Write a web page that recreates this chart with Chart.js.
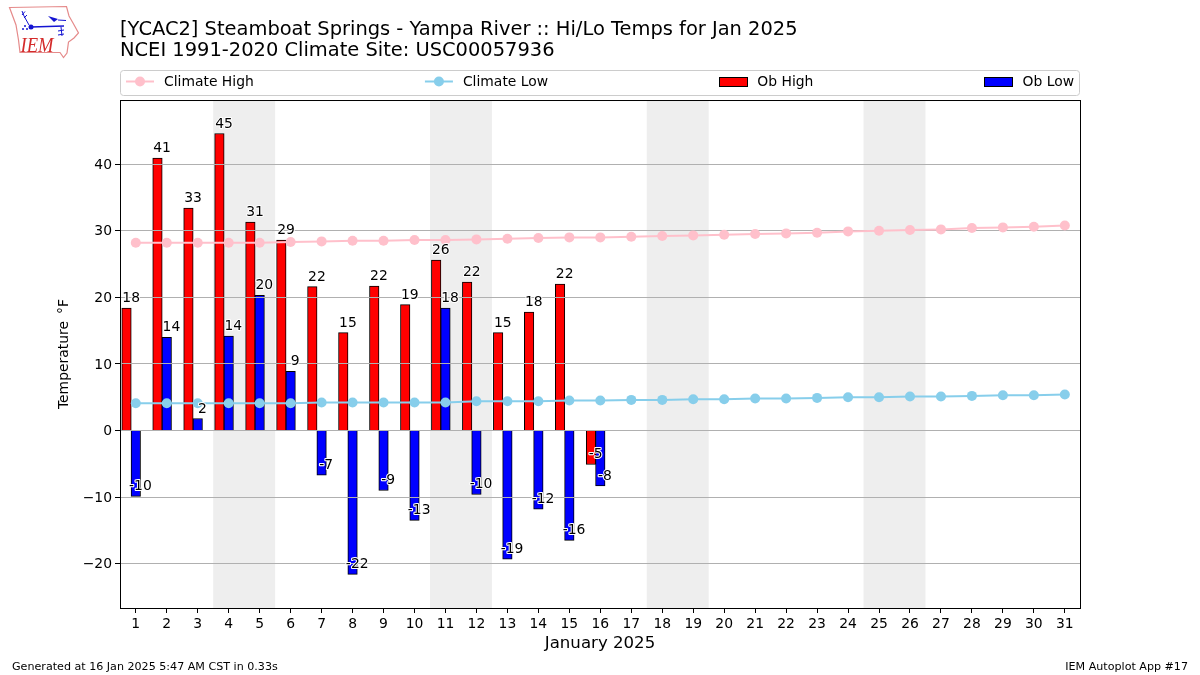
<!DOCTYPE html>
<html>
<head>
<meta charset="utf-8">
<style>
html,body{margin:0;padding:0;background:#fff;width:1200px;height:675px;overflow:hidden;font-family:"DejaVu Sans",sans-serif;}
#wrap{position:relative;width:1200px;height:675px;}
canvas#c{position:absolute;left:0;top:0;}
.foot{position:absolute;top:660px;font-size:11.12px;line-height:13px;color:#000;white-space:nowrap;}
#logo{position:absolute;left:0;top:0;}
</style>
<script src="https://cdn.jsdelivr.net/npm/chart.js@4"></script>
</head>
<body>
<div id="wrap">
<canvas id="c" width="1200" height="675"></canvas>
<svg id="logo" width="90" height="66" viewBox="0 0 90 66">
  <path d="M9.500 7.500 L66.500 6.500 L69 16 L73 23 L78.500 33 L74 38 L68.500 42 L67 53 L63.500 57.500 L60 52.500 L20 52.500 L18.500 40 L16 25 Z" fill="#fff" stroke="#e58a8a" stroke-width="1.200"/>
  <g stroke="#1414d2" fill="#1414d2">
    <path d="M31 27 L64 26" stroke-width="1.300" fill="none"/>
    <circle cx="31" cy="27" r="2.500" stroke="none"/>
    <path d="M29 25 L24 16 L22 11 M22 15 L25 11.500 M24 18 L27 15" stroke-width="1" fill="none"/>
    <path d="M48 16 L58 19 L54 22 Z" stroke="none"/>
    <path d="M58 20 L66 20.500" stroke-width="1" fill="none"/>
    <path d="M61 27 L62 36 M58 31 L64 30 M58 35 L64 34" stroke-width="1" fill="none"/>
    <circle cx="25" cy="26" r="1" stroke="none"/><circle cx="23" cy="29" r="1" stroke="none"/><circle cx="27" cy="29" r="1" stroke="none"/>
  </g>
  <text x="20.500" y="52" font-family="Liberation Serif" font-style="italic" font-size="20" textLength="33" lengthAdjust="spacingAndGlyphs" fill="#d42a2a">IEM</text>
</svg>
<div class="foot" style="left:12px;">Generated at 16 Jan 2025 5:47 AM CST in 0.33s</div>
<div class="foot" style="right:12px;">IEM Autoplot App #17</div>
</div>
<script>
const days = [1,2,3,4,5,6,7,8,9,10,11,12,13,14,15,16,17,18,19,20,21,22,23,24,25,26,27,28,29,30,31];
const obDays = [1,2,3,4,5,6,7,8,9,10,11,12,13,14,15,16];
const obHigh = [18.4,40.9,33.4,44.6,31.3,28.6,21.6,14.7,21.7,18.9,25.6,22.3,14.7,17.8,22.0,-5.1];
const obLow = [-9.9,14.0,1.8,14.2,20.3,8.9,-6.7,-21.6,-9.0,-13.5,18.4,-9.6,-19.3,-11.8,-16.5,-8.3];
const climateHigh = [28.2,28.2,28.2,28.2,28.2,28.3,28.4,28.5,28.5,28.6,28.6,28.7,28.8,28.9,29.0,29.0,29.1,29.2,29.3,29.4,29.5,29.6,29.7,29.9,30.0,30.1,30.2,30.4,30.5,30.6,30.8];
const climateLow = [4.1,4.1,4.1,4.1,4.1,4.1,4.2,4.2,4.2,4.2,4.2,4.4,4.4,4.4,4.5,4.5,4.6,4.6,4.7,4.7,4.8,4.8,4.9,5.0,5.0,5.1,5.1,5.2,5.3,5.3,5.4];
const weekends = [[3.5,5.5],[10.5,12.5],[17.5,19.5],[24.5,26.5]];
const yTickValues = [-20,-10,0,10,20,30,40];
const titleLines = ['[YCAC2] Steamboat Springs - Yampa River :: Hi/Lo Temps for Jan 2025','NCEI 1991-2020 Climate Site: USC00057936'];

const FONT = '"DejaVu Sans"';
const HIGH_SHIFT = -0.3;
const LABEL_SHIFT = 0.15;

const decor = {
  id:'decor',
  beforeDraw(chart){
    const c = chart.ctx;
    c.save();
    c.strokeStyle = '#cccccc'; c.lineWidth = 1;
    c.beginPath(); c.roundRect(120.5,70.5,959,25,3); c.stroke();
    // legend entries, evenly gapped across the frame
    const left = 126, right = 1074, handle = 28, gap = 10, mid = 82;
    c.font = '13.9px '+FONT; c.textBaseline = 'middle'; c.textAlign = 'left';
    const ds = chart.data.datasets;
    const widths = ds.map(d=>handle+gap+c.measureText(d.label).width);
    const space = (right-left-widths.reduce((a,b)=>a+b,0))/(ds.length-1);
    let x = left;
    ds.forEach((d,i)=>{
      if(d.type==='line'){
        c.strokeStyle = d.borderColor; c.lineWidth = 2;
        c.beginPath(); c.moveTo(x,mid-0.5); c.lineTo(x+handle,mid-0.5); c.stroke();
        c.fillStyle = d.borderColor; c.beginPath(); c.arc(x+handle/2,mid-0.5,5,0,Math.PI*2); c.fill();
      } else {
        c.fillStyle = d.backgroundColor; c.fillRect(Math.round(x)+0.5,77.5,handle,9);
        c.strokeStyle = '#000'; c.lineWidth = 1; c.strokeRect(Math.round(x)+0.5,77.5,handle,9);
      }
      c.fillStyle = '#000';
      c.fillText(d.label,x+handle+gap,mid);
      x += widths[i]+space;
    });
    c.restore();
  },
  beforeDatasetsDraw(chart){
    const c = chart.ctx, x = chart.scales.x, a = chart.chartArea;
    c.save(); c.fillStyle = '#eeeeee';
    weekends.forEach(w=>{
      const l = x.getPixelForValue(w[0]), r = x.getPixelForValue(w[1]);
      c.fillRect(l,a.top,r-l,a.bottom-a.top);
    });
    c.restore();
  },
  beforeDatasetDraw(chart,args){
    if(args.index !== 1) return;
    const c = chart.ctx, y = chart.scales.y, a = chart.chartArea;
    c.save(); c.strokeStyle = '#b0b0b0'; c.lineWidth = 1;
    yTickValues.forEach(v=>{
      const p = Math.floor(y.getPixelForValue(v)) + 0.5;
      c.beginPath(); c.moveTo(a.left,p); c.lineTo(a.right,p); c.stroke();
    });
    c.restore();
  },
  afterDraw(chart){
    const c = chart.ctx, x = chart.scales.x, y = chart.scales.y, a = chart.chartArea;
    c.save();
    c.strokeStyle = '#000'; c.lineWidth = 1;
    c.strokeRect(a.left+0.5,a.top+0.5,a.right-a.left,a.bottom-a.top);
    c.font = '13.9px '+FONT; c.textAlign = 'center'; c.textBaseline = 'alphabetic';
    c.lineJoin = 'round';
    const put = (d,v,shift)=>{
      const px = x.getPixelForValue(d+shift), py = y.getPixelForValue(v)-6;
      const t = String(Math.round(v));
      c.strokeStyle = '#fff'; c.lineWidth = 2; c.strokeText(t,px,py);
      c.fillStyle = '#000'; c.fillText(t,px,py);
    };
    obDays.forEach((d,i)=>{ put(d,obHigh[i],-LABEL_SHIFT); put(d,obLow[i],LABEL_SHIFT); });
    c.restore();
  }
};

new Chart(document.getElementById('c').getContext('2d'),{
  type:'bar',
  plugins:[decor],
  data:{
    datasets:[
      {type:'line',label:'Climate High',data:days.map((d,i)=>({x:d,y:climateHigh[i]})),borderColor:'#ffc0cb',backgroundColor:'#ffc0cb',borderWidth:2,pointRadius:5,pointBorderWidth:0,tension:0,order:1},
      {type:'line',label:'Climate Low',data:days.map((d,i)=>({x:d,y:climateLow[i]})),borderColor:'#87ceeb',backgroundColor:'#87ceeb',borderWidth:2,pointRadius:5,pointBorderWidth:0,tension:0,order:2},
      {label:'Ob High',data:obDays.map((d,i)=>({x:d+HIGH_SHIFT,y:obHigh[i]})),backgroundColor:'#ff0000',borderColor:'#000',borderWidth:1,grouped:false,barThickness:9.5,order:4},
      {label:'Ob Low',data:obDays.map((d,i)=>({x:d,y:obLow[i]})),backgroundColor:'#0000ff',borderColor:'#000',borderWidth:1,grouped:false,barThickness:9.5,order:3}
    ]
  },
  options:{
    responsive:false,
    animation:false,
    devicePixelRatio:1,
    layout:{padding:{left:0,right:120,top:0,bottom:0}},
    plugins:{
      tooltip:{enabled:false},
      legend:{display:false},
      title:{
        display:true,text:titleLines,align:'start',fullSize:false,color:'#000',
        font:{family:FONT,size:19.46,weight:'normal',lineHeight:1.1},
        padding:{top:19,bottom:38.2}
      }
    },
    scales:{
      x:{
        type:'linear',min:0.49,max:31.49,offset:false,
        afterFit(s){s.height=67;},
        afterBuildTicks(s){s.ticks=days.map(v=>({value:v}));},
        grid:{display:true,offset:false,drawOnChartArea:false,drawTicks:true,tickLength:5,tickColor:'#000'},
        border:{display:false},
        ticks:{autoSkip:false,maxRotation:0,color:'#000',padding:3,font:{family:FONT,size:13.9},callback:v=>String(v)},
        title:{display:true,text:'January 2025',color:'#000',font:{family:FONT,size:16.6},padding:{top:4,bottom:21}}
      },
      y:{
        type:'linear',min:-26.65,max:49.63,
        afterFit(s){s.width=120;},
        afterBuildTicks(s){s.ticks=yTickValues.map(v=>({value:v}));},
        grid:{display:true,drawOnChartArea:false,drawTicks:true,tickLength:5,tickColor:'#000'},
        border:{display:false},
        ticks:{color:'#000',padding:3,labelOffset:1,font:{family:FONT,size:13.9},callback:v=>String(v).replace('-','\u2212')},
        title:{display:true,text:'Temperature \u2009\u00B0F',color:'#000',font:{family:FONT,size:13.9},padding:{top:56,bottom:0}}
      }
    }
  }
});
</script>
</body>
</html>
